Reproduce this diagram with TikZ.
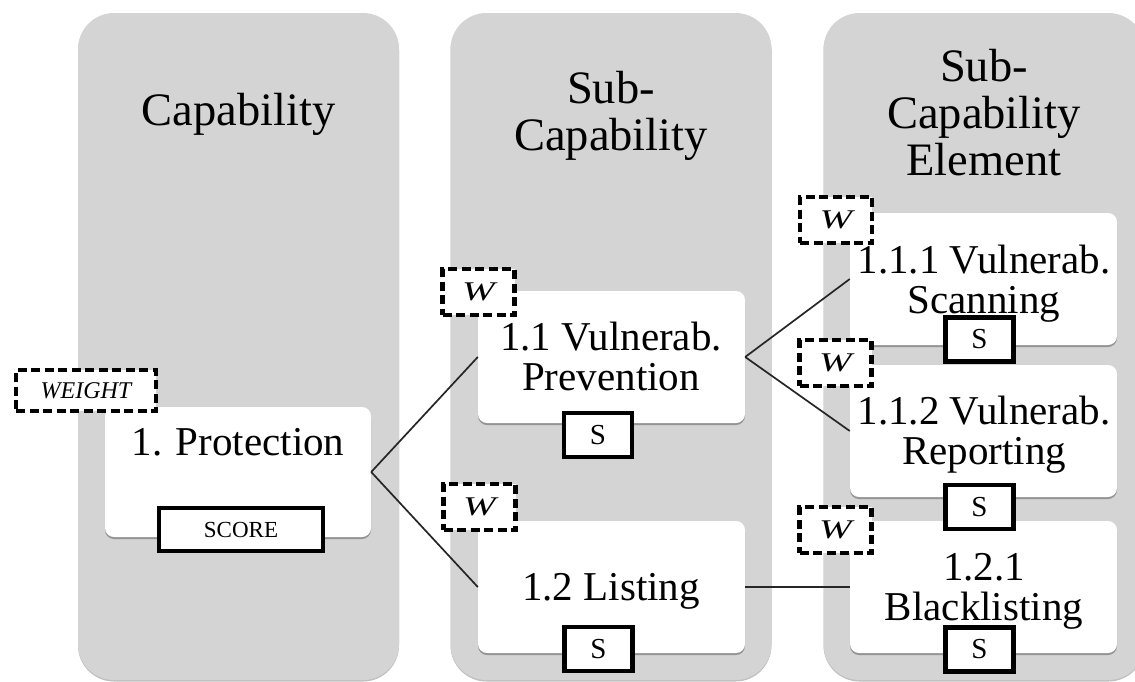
\documentclass[tikz,border=0pt]{standalone}
\usepackage{fontspec}
\setmainfont{Liberation Serif}
\usetikzlibrary{shadows}
\definecolor{colgray}{RGB}{212,212,212}
\newcommand{\wideW}{\scalebox{1.45}[1]{W}}
\begin{document}
\begin{tikzpicture}[x=1pt,y=-1pt,
  colbox/.style={rectangle, fill=colgray, draw=none, rounded corners=36pt,
    minimum width=321pt, minimum height=667pt, inner sep=0pt,
    drop shadow={shadow xshift=0pt, shadow yshift=-1.5pt, opacity=0.25, fill=black}},
  headtext/.style={font=\fontsize{46.5}{47}\selectfont, align=center, inner sep=0pt},
  elbox/.style={rectangle, fill=white, draw=none, rounded corners=9pt,
    minimum width=267pt, minimum height=132pt, inner sep=0pt,
    drop shadow={shadow xshift=0pt, shadow yshift=-2pt, opacity=0.3, fill=black}},
  eltext/.style={font=\fontsize{41}{40}\selectfont, align=center, inner sep=0pt},
  wbox/.style={rectangle, fill=white, draw=black, line width=4.2pt,
    dash pattern=on 9pt off 4.5pt, minimum width=72pt, minimum height=46pt, inner sep=0pt,
    font=\fontsize{27}{27}\selectfont\itshape},
  sbox/.style={rectangle, fill=white, draw=black, line width=4.2pt,
    minimum width=68pt, minimum height=44pt, inner sep=0pt,
    font=\fontsize{29}{29}\selectfont},
  conn/.style={draw=black!85, line width=1.7pt}]
\useasboundingbox (0,0) rectangle (1135,681);
\clip (0,0) rectangle (1135,681);
% columns
\node[colbox] (c1) at (238.5,346.5) {};
\node[colbox] (c2) at (611,346.5) {};
\node[colbox] (c3) at (984,346.5) {};
% headings
\node[headtext, anchor=base] (h1) at (238.5,125) {Capability};
\node[headtext, anchor=base] (h2) at (611,150) {Sub-\\Capability};
\node[headtext, anchor=base] (h3) at (984,175) {Sub-\\Capability\\Element};
% element boxes
\node[elbox, minimum width=266pt, minimum height=130pt] (p) at (238,472) {};
\node[elbox] (b11) at (611.5,357) {};
\node[elbox] (b12) at (611.5,587) {};
\node[elbox] (b111) at (983.5,279) {};
\node[elbox] (b112) at (983.5,431) {};
\node[elbox] (b121) at (983.5,587) {};
% connectors
\draw[conn] (p.east) -- (b11.west);
\draw[conn] (p.east) -- (b12.west);
\draw[conn] (b11.east) -- (b111.west);
\draw[conn] (b11.east) -- (b112.west);
\draw[conn] (b12.east) -- (b121.west);
% element texts
\node[eltext, anchor=base] (tp) at (238,455) {1. Protection};
\node[eltext, anchor=base] (t11) at (611,390) {1.1 Vulnerab.\\Prevention};
\node[eltext, anchor=base] (t12) at (611,600) {1.2 Listing};
\node[eltext, anchor=base] (t111) at (984,313) {1.1.1 Vulnerab.\\Scanning};
\node[eltext, anchor=base] (t112) at (984,464) {1.1.2 Vulnerab.\\Reporting};
\node[eltext, anchor=base] (t121) at (984,620) {1.2.1\\Blacklisting};
% weight boxes
\node[wbox, minimum width=140pt, minimum height=41pt, font=\fontsize{24}{24}\selectfont\itshape] (wp) at (86,390.5) {WEIGHT};
\node[wbox] (w11) at (478.5,292) {\wideW};
\node[wbox] (w12) at (479.5,507) {\wideW};
\node[wbox] (w111) at (836,220) {\wideW};
\node[wbox] (w112) at (835.5,363) {\wideW};
\node[wbox] (w121) at (835.5,530) {\wideW};
% score boxes
\node[sbox, minimum width=164pt, minimum height=43pt, font=\fontsize{23}{23}\selectfont] (sp) at (241,529.5) {SCORE};
\node[sbox] (s11) at (598,435) {S};
\node[sbox] (s12) at (598.5,649) {S};
\node[sbox] (s111) at (979.5,339.5) {S};
\node[sbox] (s112) at (979.5,507) {S};
\node[sbox] (s121) at (979.5,649.5) {S};
\end{tikzpicture}
\end{document}
